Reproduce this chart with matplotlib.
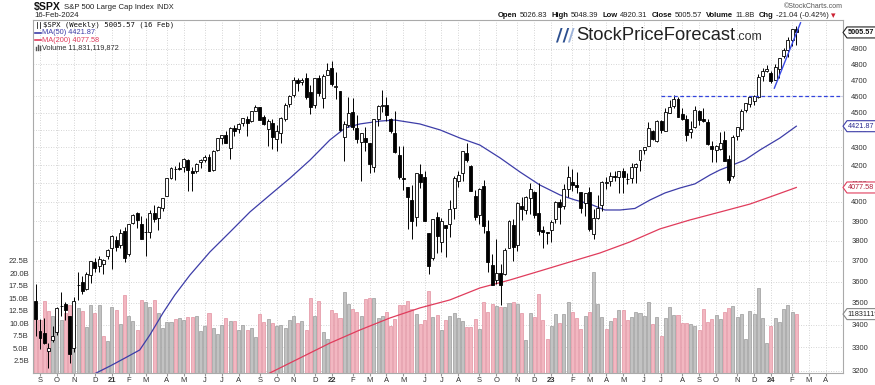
import matplotlib.pyplot as plt
from matplotlib.patches import Polygon
from matplotlib.lines import Line2D
from matplotlib.ticker import NullLocator
import numpy as np
import pandas as pd

W, H, DPI = 875, 385, 100
plt.rcParams['font.family'] = ['Liberation Sans', 'DejaVu Sans']

# weekly $SPX candles, first week starts 2020-08-31
opens = [3509.7, 3371.9, 3363.6, 3285.6, 3334.0, 3367.3, 3488.0, 3493.5, 3441.4, 3296.2, 3583.0, 3600.2, 3566.8, 3634.2, 3694.7, 3675.3, 3684.3, 3723.0,
         3764, 3803, 3781, 3851, 3732, 3892, 3940, 3886, 3842, 3844, 3942, 3916, 3969, 4034, 4128, 4179, 4185, 4192, 4228, 4169,
         4170, 4217, 4230, 4248, 4174, 4285, 4356, 4372, 4296, 4409, 4407, 4439, 4462, 4454, 4514, 4536, 4474, 4403, 4442, 4348,
         4385, 4463, 4553, 4610, 4702, 4689, 4712, 4628, 4549, 4710, 4588, 4733,
         4778, 4655, 4632, 4357, 4431, 4505, 4412, 4332, 4354, 4327, 4188, 4462, 4541, 4547, 4462, 4385, 4255, 4130, 4081, 4013,
         3920, 4151, 4134, 3838, 3715, 3920, 3792, 3880, 3883, 3966, 4112, 4155, 4270, 4195, 4034, 3930, 4084, 3849, 3682, 3609,
         3641, 3638, 3765, 3881, 3780, 3978, 3956, 4023, 4053, 3940, 3853, 3843,
         3853, 3910, 3999, 3979, 4071, 4105, 4091, 4052, 3993, 4055, 3835, 3917, 3982, 4102, 4110, 4140, 4135, 4166, 4126, 4127,
         4191, 4226, 4283, 4308, 4396, 4337, 4450, 4395, 4500, 4543, 4585, 4492, 4464, 4389, 4415, 4510, 4463, 4445, 4310, 4284,
         4289, 4343, 4235, 4140, 4364, 4406, 4515, 4555, 4569, 4593, 4725, 4759,
         4745, 4703, 4772, 4853, 4892, 4957, 5026.83]
highs = [3588.1, 3425.6, 3428.9, 3320.3, 3393.6, 3482.3, 3550.0, 3502.4, 3441.4, 3529.0, 3646.0, 3628.5, 3644.8, 3699.2, 3712.4, 3726.7, 3711.2, 3760.2,
         3827, 3823, 3859, 3870, 3887, 3937, 3950, 3929, 3915, 3960, 3983, 3978, 4021, 4130, 4191, 4195, 4219, 4238, 4236, 4188,
         4213, 4234, 4255, 4262, 4286, 4356, 4372, 4393, 4415, 4429, 4440, 4468, 4480, 4514, 4545, 4536, 4486, 4466, 4466, 4430,
         4475, 4559, 4608, 4718, 4714, 4715, 4744, 4672, 4713, 4731, 4740, 4808,
         4818, 4749, 4632, 4453, 4595, 4590, 4490, 4385, 4416, 4327, 4465, 4546, 4637, 4593, 4471, 4513, 4308, 4308, 4081, 4091,
         4158, 4204, 4168, 3838, 3913, 3946, 3918, 3880, 4013, 4140, 4167, 4281, 4325, 4203, 4062, 4076, 4119, 3907, 3736, 3807,
         3685, 3762, 3905, 3911, 4001, 4028, 4034, 4101, 4061, 4101, 3876, 3846,
         3906, 4003, 4015, 4095, 4195, 4176, 4161, 4052, 4049, 4079, 3964, 4039, 4110, 4133, 4164, 4170, 4170, 4186, 4155, 4212,
         4213, 4281, 4299, 4448, 4400, 4458, 4456, 4528, 4578, 4607, 4595, 4527, 4490, 4452, 4541, 4515, 4527, 4465, 4338, 4311,
         4386, 4393, 4256, 4372, 4416, 4521, 4562, 4595, 4609, 4739, 4778, 4793,
         4755, 4798, 4842, 4904, 4976, 5030, 5048.39]
lows = [3349.6, 3293.6, 3313.0, 3209.5, 3323.7, 3354.1, 3441.4, 3419.9, 3233.9, 3279.7, 3511.9, 3543.0, 3560.3, 3594.4, 3645.8, 3647.8, 3636.5, 3709.1,
        3663, 3749, 3762, 3694, 3725, 3885, 3866, 3811, 3723, 3814, 3894, 3853, 3955, 4034, 4125, 4119, 4175, 4160, 4057, 4061,
        4155, 4185, 4218, 4165, 4165, 4279, 4320, 4322, 4233, 4367, 4385, 4424, 4367, 4448, 4513, 4457, 4428, 4306, 4288, 4279,
        4322, 4453, 4537, 4595, 4630, 4672, 4586, 4495, 4532, 4600, 4531, 4733,
        4662, 4582, 4395, 4223, 4415, 4401, 4327, 4115, 4279, 4157, 4161, 4424, 4506, 4450, 4381, 4267, 4124, 4063, 3859, 3811,
        3876, 4074, 3901, 3637, 3705, 3741, 3743, 3721, 3819, 3911, 4080, 4112, 4218, 4057, 3907, 3887, 3838, 3648, 3584, 3590,
        3492, 3630, 3763, 3699, 3751, 3906, 3938, 3939, 3918, 3828, 3765, 3783,
        3795, 3888, 3886, 3961, 4029, 4061, 4048, 3943, 3928, 3847, 3808, 3909, 3951, 4069, 4085, 4114, 4049, 4048, 4098, 4104,
        4103, 4166, 4262, 4307, 4341, 4328, 4385, 4394, 4497, 4528, 4474, 4457, 4335, 4356, 4413, 4431, 4445, 4316, 4217, 4216,
        4284, 4223, 4104, 4127, 4343, 4393, 4507, 4537, 4547, 4592, 4694, 4751,
        4682, 4699, 4714, 4842, 4845, 4918, 4920.31]
closes = [3427.0, 3341.0, 3319.5, 3298.5, 3348.4, 3477.1, 3483.8, 3465.4, 3270.0, 3509.4, 3585.2, 3557.5, 3638.4, 3699.1, 3663.5, 3709.4, 3703.1, 3756.1,
          3825, 3768, 3841, 3714, 3887, 3934, 3907, 3811, 3842, 3943, 3913, 3975, 4020, 4129, 4185, 4180, 4181, 4233, 4174, 4156,
          4204, 4230, 4247, 4166, 4281, 4352, 4370, 4327, 4412, 4395, 4437, 4468, 4442, 4509, 4535, 4459, 4433, 4455, 4357, 4391,
          4471, 4545, 4605, 4698, 4683, 4698, 4595, 4538, 4712, 4621, 4726, 4766,
          4677, 4663, 4398, 4432, 4501, 4419, 4349, 4385, 4329, 4204, 4463, 4543, 4546, 4488, 4392, 4272, 4132, 4123, 4024, 3901,
          4158, 4109, 3901, 3675, 3912, 3825, 3899, 3863, 3962, 4130, 4145, 4280, 4228, 4058, 3924, 4067, 3873, 3693, 3586, 3640,
          3583, 3753, 3901, 3771, 3993, 3965, 4026, 4072, 3934, 3852, 3845, 3840,
          3895, 3999, 3973, 4071, 4136, 4090, 4079, 3970, 4046, 3862, 3917, 3971, 4109, 4105, 4138, 4133, 4169, 4136, 4124, 4192,
          4205, 4282, 4299, 4410, 4348, 4450, 4399, 4505, 4536, 4582, 4478, 4464, 4370, 4406, 4516, 4457, 4450, 4320, 4288, 4309,
          4327, 4224, 4117, 4358, 4415, 4514, 4559, 4595, 4604, 4719, 4755, 4770,
          4697, 4784, 4840, 4891, 4959, 5027, 5005.57]
prior_close = 3508.0

# weekly volume, billions of shares
volume_b = [11.0, 10.6, 14.5, 12.4, 11.4, 10.9, 10.6, 12.0, 13.6, 14.2, 13.0, 12.4, 9.2, 13.6, 12.1, 13.6, 7.5, 6.5, 13.2, 12.6,
            9.8, 15.6, 11.5, 10.4, 8.7, 14.6, 14.2, 13.3, 14.6, 12.0, 9.1, 10.2, 10.2, 10.8, 11.0, 10.7, 11.2, 11.3, 11.5, 8.4,
            9.4, 12.1, 9.0, 7.9, 9.6, 11.0, 10.4, 10.4, 8.7, 9.6, 8.7, 9.0, 7.3, 11.8, 10.2, 10.8, 10.0, 9.4,
            9.6, 9.1, 10.6, 11.4, 10.0, 10.5, 8.6, 15.1, 11.4, 14.5, 8.2, 6.9, 12.7, 12.1, 11.0, 16.2, 13.8, 12.8, 12.2, 11.5,
            14.8, 15.1, 15.0, 11.0, 11.4, 12.2, 9.4, 10.8, 13.7, 13.7, 14.4, 12.9, 11.8, 9.8, 10.6, 16.4, 11.2, 11.6, 8.7, 10.6,
            11.5, 12.0, 11.1, 10.4, 9.3, 9.3, 10.9, 8.8, 14.2, 12.3, 13.9, 13.4, 13.3, 13.2, 14.1, 14.3, 13.8, 12.1, 6.6, 12.1,
            11.2, 15.8, 10.6, 6.8, 9.4, 11.8, 10.0, 11.8, 14.3, 12.3, 11.1,
            8.9, 11.4, 12.3, 20.2, 13.8, 11.2, 8.9, 10.5, 11.1, 12.7, 12.7, 10.7, 11.2, 12.3, 12.1, 11.4, 14.2, 9.8, 11.3, 7.5,
            11.1, 13.2, 11.7, 11.7, 10.1, 10.1, 9.8, 9.5, 8.7, 12.9, 10.3, 10.8, 11.7, 10.8, 12.2, 13.1, 13.5, 11.2, 11.9, 6.8,
            12.5, 11.9, 17.1, 11.1, 6.1, 9.4, 11.0, 10.2, 12.9, 13.6, 12.3, 11.83]

# moving averages (week index, value)
ma50_wk = [12, 17.6, 21.1, 24.6, 27.0, 30.1, 32.9, 36.5, 41.2, 46.0, 50.7, 55.4, 60.2, 64.9, 69.6, 73.2, 76.7, 81.5, 85.0,
           90.9, 95.7, 100.4, 105.1, 109.9, 114.6, 119.3, 124.1, 127.6, 131.2, 134.7, 138.3, 141.8, 145.4, 148.9, 152.5,
           156.0, 159.6, 161.9, 164.3, 167.8, 171.4, 176.1, 180]
ma50 = [3170, 3220, 3254, 3289, 3355, 3454, 3537, 3632, 3744, 3845, 3948, 4037, 4129, 4228, 4342, 4411, 4435, 4452, 4458,
        4435, 4400, 4353, 4313, 4240, 4162, 4091, 4037, 4011, 3989, 3958, 3958, 3966, 4011, 4048, 4075,
        4097, 4146, 4173, 4195, 4228, 4285, 4353, 4421.87]
ma200_wk = [54, 62.5, 69.6, 76.7, 83.8, 90.9, 98.0, 105.1, 112.2, 119.3, 126.4, 133.5, 140.6, 147.7, 154.8, 161.9, 169.0, 173.8, 180]
ma200 = [3178, 3254, 3319, 3377, 3431, 3477, 3514, 3570, 3608, 3651, 3695, 3739, 3794, 3860, 3906, 3947, 3989, 4027, 4077.58]

resist_level = 4600
resist_start = 148
trend_wk = [174.8, 181.0]
trend_val = [4650, 5070]

price_ticks = list(range(3200, 5000, 100))
vol_ticks = [2.5, 5.0, 7.5, 10.0, 12.5, 15.0, 17.5, 20.0, 22.5]

n = len(closes)
x = np.arange(n)
o = np.array(opens, float)
c = np.array(closes, float)
prev = np.concatenate([[prior_close], c[:-1]])
up = c >= prev

dates = pd.date_range('2020-08-31', periods=191, freq='7D')
mt_pos, mt_lab, mt_bold = [], [], []
for i in range(1, len(dates)):
    if dates[i].month != dates[i - 1].month:
        mt_pos.append(i)
        if dates[i].month == 1:
            mt_lab.append(dates[i].strftime('%y'))
            mt_bold.append(True)
        else:
            mt_lab.append(dates[i].strftime('%b')[0])
            mt_bold.append(False)

fig = plt.figure(figsize=(W / DPI, H / DPI), dpi=DPI)
pos = [33 / W, 1 - 373 / H, 810 / W, 353 / H]
xlim = (-0.66, 191.05)
ylim = (3190.3, 5088.7)

# grid layer
axg = fig.add_axes(pos, zorder=0)
axg.set_yscale('log')
axg.set_xlim(xlim)
axg.set_ylim(ylim)
axg.yaxis.set_minor_locator(NullLocator())
axg.set_yticks(price_ticks)
axg.set_xticks(mt_pos)
axg.grid(True, ls=(0, (1, 2)), color='#c8c8c8', lw=0.6)
axg.tick_params(length=0, labelleft=False, labelbottom=False)
for s in axg.spines.values():
    s.set_visible(False)

# volume layer
axv = fig.add_axes(pos, zorder=1)
axv.patch.set_visible(False)
axv.bar(x, volume_b, width=0.72, color=np.where(up, '#c2c2c2', '#f2b7c1'),
        edgecolor=np.where(up, '#9a9a9a', '#e291a0'), lw=0.5)
axv.set_xlim(xlim)
axv.set_ylim(0, 70.9)
axv.set_xticks([])
axv.set_yticks(vol_ticks, [f'{v:.1f}B' for v in vol_ticks])
axv.tick_params(axis='y', length=0, labelsize=5.5, labelcolor='#333333', pad=3)
for s in axv.spines.values():
    s.set_visible(False)

# price layer
ax = fig.add_axes(pos, zorder=2)
ax.patch.set_visible(False)
ax.set_yscale('log')
ax.set_xlim(xlim)
ax.set_ylim(ylim)

ax.plot(ma50_wk, ma50, color='#3d3da8', lw=0.9, zorder=2)
ax.plot(ma200_wk, ma200, color='#e03c5c', lw=0.9, zorder=2)

ax.vlines(x, lows, highs, color='black', lw=0.7, zorder=3)
body_lo = np.minimum(o, c)
body_h = np.maximum(np.abs(c - o), 0.5)
ax.bar(x, body_h, bottom=body_lo, width=0.7, color=np.where(c >= o, 'white', 'black'),
       edgecolor='black', lw=0.6, zorder=4)

ax.hlines(resist_level, resist_start, xlim[1], color='#3344dd', lw=0.9, ls=(0, (3, 2)), zorder=5)
ax.plot(trend_wk, trend_val, color='#3a4ae6', lw=1.0, zorder=5)

ax.yaxis.tick_right()
ax.yaxis.set_minor_locator(NullLocator())
ax.set_yticks(price_ticks, [str(p) for p in price_ticks])
ax.set_xticks(mt_pos, mt_lab)
for lab, b in zip(ax.get_xticklabels(), mt_bold):
    if b:
        lab.set_fontweight('bold')
ax.tick_params(axis='y', length=0, labelsize=5.5, labelcolor='#333333', pad=6)
ax.tick_params(axis='x', length=2, color='#999999', labelsize=5.5, labelcolor='#333333', pad=1)
for s in ax.spines.values():
    s.set_color('#aaaaaa')
    s.set_linewidth(0.8)

renderer = fig.canvas.get_renderer()


def fx(px):
    return px / W


def fy(py):
    return 1 - py / H


def text_run(x0, y0, s, va='center', **kw):
    # place a text at pixel x0 (from left), y0 (from top) and return its right edge
    t = fig.text(fx(x0), fy(y0), s, va=va, ha='left', **kw)
    return t.get_window_extent(renderer).x1


def tag(axis, yval, text, edge, tcolor, bold=False):
    ypix = axis.transData.transform((0, yval))[1]
    x0, h = 843, 5.5
    pts = [(x0, ypix), (x0 + 4, ypix + h), (W + 2, ypix + h), (W + 2, ypix - h), (x0 + 4, ypix - h)]
    poly = Polygon([(px / W, py / H) for px, py in pts], closed=True, transform=fig.transFigure,
                   fc='white', ec=edge, lw=0.8, zorder=5)
    fig.add_artist(poly)
    fig.text(fx(x0 + 4.5), ypix / H, text, va='center', ha='left', fontsize=5.2, color=tcolor,
             fontweight='bold' if bold else 'normal', zorder=6)


tag(ax, 5005.57, '5005.57', '#222222', '#111111', bold=True)
tag(ax, 4421.87, '4421.87', '#3d3da8', '#2a2a90')
tag(ax, 4077.58, '4077.58', '#e03c5c', '#b0203c')
tag(axv, 11.83, '11831119872', '#888888', '#222222')

# header
xe = text_run(34, 7, '$SPX', fontsize=7.6, fontweight='bold', color='#111111')
xe = text_run(xe + 3, 7.5, 'S&P 500 Large Cap Index', fontsize=5.6, color='#222222')
text_run(xe + 3, 7.5, 'INDX', fontsize=5.3, color='#222222')
fig.text(fx(34), fy(15.7), '16-Feb-2024', fontsize=5.6, color='#222222', va='center', ha='left')
fig.text(fx(843), fy(6), '\u00a9StockCharts.com', fontsize=5.0, color='#555555', va='center', ha='right')

xp = 498
for lab, val in [('Open', '5026.83'), ('High', '5048.39'), ('Low', '4920.31'), ('Close', '5005.57'),
                 ('Volume', '11.8B'), ('Chg', '-21.04 (-0.42%)')]:
    xp = text_run(xp, 15.7, lab, fontsize=5.5, fontweight='bold', color='#111111') + 2
    xp = text_run(xp, 15.7, val, fontsize=5.5, color='#222222') + 4.5
fig.text(fx(xp - 2), fy(15.9), '\u25be', fontsize=6.5, color='#cc2233', va='center', ha='left',
         family='DejaVu Sans')

# legend inside the plot
fig.text(fx(43), fy(25), '$SPX (Weekly) 5005.57 (16 Feb)', fontsize=5.2, color='#111111',
         va='center', ha='left', family='DejaVu Sans Mono')
for yy, col, txt in [(32.7, '#3d3da8', 'MA(50) 4421.87'), (40.2, '#e03c5c', 'MA(200) 4077.58')]:
    fig.add_artist(Line2D([fx(35), fx(41)], [fy(yy), fy(yy)], color=col, lw=1.2))
    fig.text(fx(42), fy(yy), txt, fontsize=5.3, color=col, va='center', ha='left')
for k, hh in enumerate([3, 5, 4]):
    fig.add_artist(Line2D([fx(35.5 + 2 * k), fx(35.5 + 2 * k)], [fy(49.5), fy(49.5 - hh)], color='#555555', lw=1.0))
fig.text(fx(42), fy(47.8), 'Volume 11,831,119,872', fontsize=5.3, color='#333333', va='center', ha='left')
# small candle icon
fig.add_artist(Line2D([fx(37), fx(37)], [fy(22), fy(28)], color='#222222', lw=0.6))
fig.add_artist(Line2D([fx(40), fx(40)], [fy(21.5), fy(27.5)], color='#222222', lw=0.6))

# logo watermark
xp = text_run(556, 40, '//', va='baseline', fontsize=13, fontweight='bold', color='#2c4f8f', family='DejaVu Sans')
xp = text_run(xp - 1, 40, '/', va='baseline', fontsize=13, fontweight='bold', color='#9db3d9', family='DejaVu Sans')
xp = text_run(xp + 1, 40, 'StockPriceForecast', va='baseline', fontsize=13.2, color='#222222')
text_run(xp + 1, 40, '.com', va='baseline', fontsize=9, color='#333333')

fig.savefig('out.png', dpi=DPI)
